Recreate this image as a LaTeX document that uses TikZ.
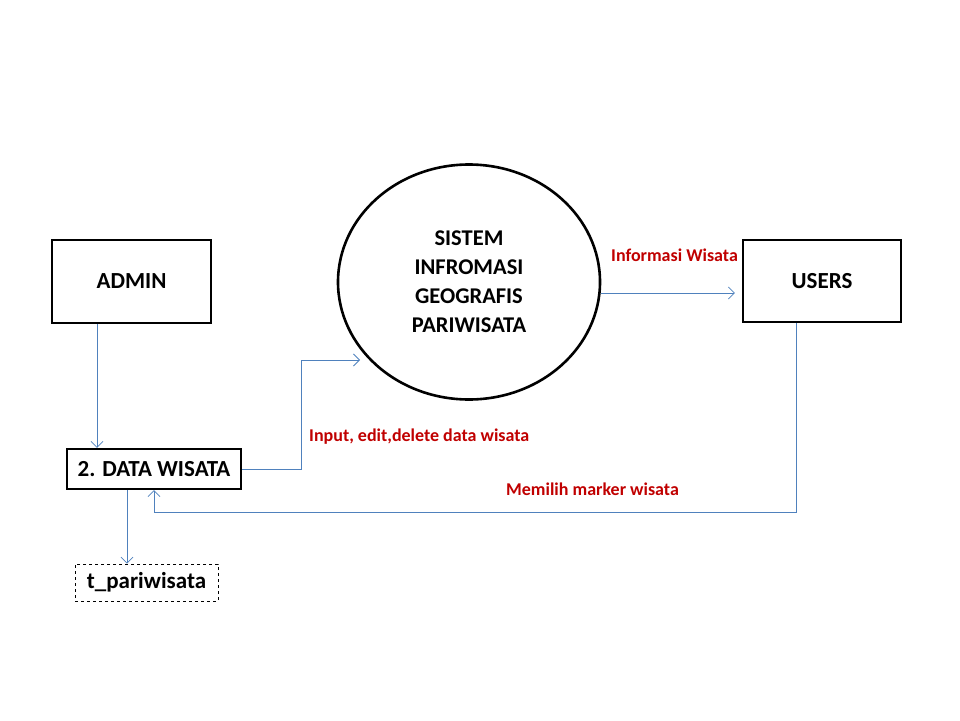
\documentclass[tikz,border=0pt]{standalone}
\usepackage{fontspec}
\setmainfont{Carlito}
\usetikzlibrary{positioning, shapes.geometric, arrows.meta}

\definecolor{flowblue}{RGB}{79,129,189}
\definecolor{labelred}{RGB}{192,0,0}

\tikzset{
	entity/.style={draw, line width=2.2pt, minimum width=159pt, minimum height=83pt, font=\fontsize{23}{27}\selectfont\bfseries},
	store/.style={draw, dashed, line width=0.6pt, minimum width=143pt, minimum height=37pt, font=\fontsize{23}{27}\selectfont\bfseries},
	flow/.style={draw=flowblue, line width=0.8pt, -{Straight Barb[length=6pt, width=12pt]}},
	flowlabel/.style={text=labelred, font=\fontsize{18}{21}\selectfont\bfseries, inner sep=0pt}
}

\begin{document}
\begin{tikzpicture}[x=1pt, y=-1pt]
					\useasboundingbox (0,0) rectangle (960,720);
					\node[entity] (admin) at (131.5,281.5) {ADMIN};
					\node[entity, minimum width=158pt, minimum height=82pt] (users) at (822,281) {USERS};
					\node[draw, ellipse, line width=2.6pt, minimum width=262pt, minimum height=235pt, inner sep=0pt,
						align=center, font=\fontsize{22.5}{29}\selectfont\bfseries] (sig) at (469,282)
						{SISTEM\\INFROMASI\\GEOGRAFIS\\PARIWISATA};
					\node[entity, minimum width=174pt, minimum height=40pt] (data) at (154,469) {2. DATA WISATA};
					\node[store] (tpar) at (146.5,582.5) {t\_pariwisata};
					\coordinate (sigin) at (360,360);
					% data flows
					\draw[flow] ([xshift=-34.5pt]admin.south) -- ([xshift=-34.5pt]admin.south |- data.north);
					\draw[flow] ([xshift=-27pt]data.south) -- ([xshift=-27pt]data.south |- tpar.north);
					\draw[flow] (data.east) -- ++(59,0) |- (sigin);
					\draw[flow] ([yshift=-11pt]sig.east) -- ([yshift=-12pt, xshift=-7pt]users.west);
					\draw[flow] ([xshift=-26pt]users.south) |- ([yshift=-22pt]data.south) -- (data.south);
					\node[flowlabel, anchor=west] (lblinfo) at (611,255) {Informasi Wisata};
					\node[flowlabel, anchor=west] (lblinput) at (309,437) {Input, edit,delete data wisata};
					\node[flowlabel, anchor=west] (lblmarker) at (506,489) {Memilih marker wisata};
				\end{tikzpicture}
\end{document}
